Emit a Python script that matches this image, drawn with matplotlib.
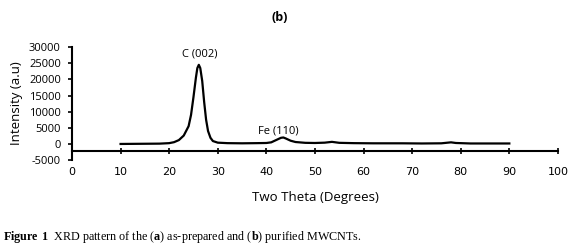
import matplotlib.pyplot as plt

plt.rcParams["axes.unicode_minus"] = False
plt.rcParams["mathtext.fontset"] = "custom"
plt.rcParams["mathtext.rm"] = "Liberation Serif"
plt.rcParams["mathtext.bf"] = "Liberation Serif:bold"

# XRD pattern of purified MWCNTs
two_theta = [10, 14, 18, 20, 21, 22, 23, 24, 24.5, 25, 25.5, 25.8, 26.1, 26.4, 26.8, 27.2, 27.6,
             28, 28.5, 29, 30, 32, 35, 38, 40, 41, 42, 43, 43.5, 44, 45, 46,
             48, 50, 52, 53.5, 55, 58, 62, 68, 72, 76, 78, 79, 82, 86, 90]
intensity = [0, 50, 100, 250, 550, 1200, 2600, 5500, 9000, 14500, 20500, 23500, 24500, 23500, 19500, 13000, 7500,
             4000, 1900, 900, 400, 250, 200, 250, 300, 500, 1200, 1900, 2000, 1700, 1000, 600,
             350, 300, 400, 650, 350, 250, 200, 200, 150, 200, 500, 300, 150, 150, 150]

x_ticks = [0, 10, 20, 30, 40, 50, 60, 70, 80, 90, 100]
y_ticks = [-5000, 0, 5000, 10000, 15000, 20000, 25000, 30000]

peak_labels = ["C (002)", "Fe (110)"]
peak_pos = [(26.3, 26000), (42.4, 2200)]

sans = "Open Sans"

fig = plt.figure(figsize=(5.74, 2.49), dpi=100)
ax = fig.add_axes([0.1254, 0.357, 0.8466, 0.454])

ax.plot(two_theta, intensity, color="black", linewidth=1.6)

ax.set_xlim(0, 100)
ax.set_ylim(-5000, 30000)
ax.set_xticks(x_ticks)
ax.set_yticks(y_ticks)
ax.tick_params(axis="both", labelsize=8, colors="black")
ax.tick_params(axis="x", direction="inout", length=5, width=1.2, pad=9)
ax.tick_params(axis="y", direction="out", length=3, width=1.2, pad=5)
for lab in ax.get_xticklabels() + ax.get_yticklabels():
    lab.set_family(sans)

ax.spines["top"].set_visible(False)
ax.spines["right"].set_visible(False)
ax.spines["bottom"].set_position(("data", -2200))
ax.spines["bottom"].set_linewidth(1.5)
ax.spines["left"].set_linewidth(1.5)

for lab, (px, py) in zip(peak_labels, peak_pos):
    ax.text(px, py, lab, ha="center", va="bottom", fontsize=8, family=sans)

ax.set_xlabel("Two Theta (Degrees)", fontsize=9.5, family=sans, labelpad=10)
ax.set_ylabel("Intensity (a.u)", fontsize=9.5, family=sans, labelpad=4)

fig.text(0.488, 0.93, "(b)", ha="center", va="center", fontsize=9,
         fontweight="bold", family=sans)

fig.text(0.005, 0.05, r"$\mathbf{Figure\ 1}$  XRD pattern of the ($\mathbf{a}$) as-prepared and ($\mathbf{b}$) purified MWCNTs.",
         ha="left", va="center", fontsize=8.7, family="Liberation Serif")

fig.savefig("out.png", dpi=100)
